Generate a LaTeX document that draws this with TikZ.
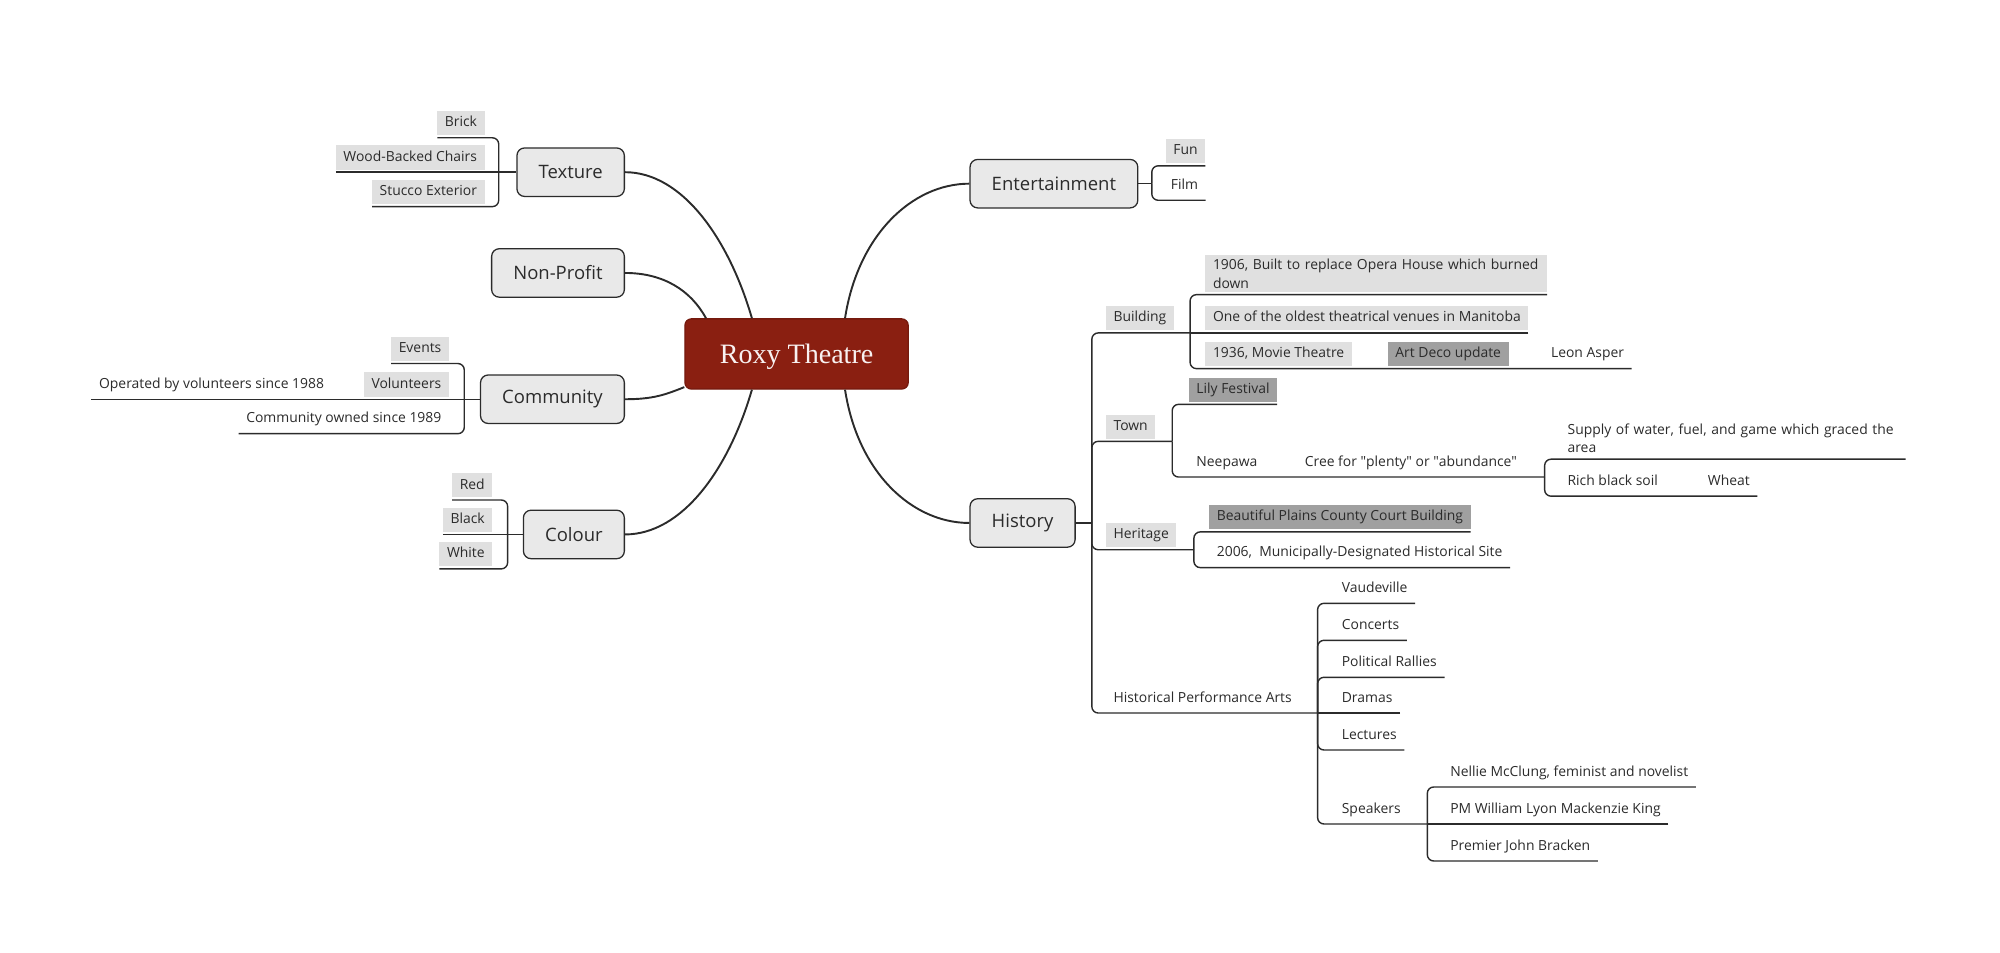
\documentclass[tikz,border=0pt]{standalone}
\usepackage{fontspec}
\setmainfont{Open Sans}
\newfontfamily\titlefont{Liberation Serif}
\definecolor{roxyred}{HTML}{8A1F11}
\definecolor{leafgray}{HTML}{E0E0E0}
\definecolor{deepgray}{HTML}{A0A0A0}
\definecolor{topicgray}{HTML}{E9E9E9}
\definecolor{ink}{HTML}{2B2B2B}

\begin{document}
\begin{tikzpicture}
[x=1pt,y=-1pt,
 root/.style={rounded corners=5pt,fill=roxyred,draw=roxyred!85!black,line width=1pt,
    text=white!94!roxyred,minimum width=175pt,minimum height=55pt,text depth=0pt,
    font=\titlefont\fontsize{22}{26}\selectfont},
 topic/.style={rounded corners=6pt,fill=topicgray,draw=ink,line width=1pt,text=ink,
    minimum height=38pt,inner xsep=17pt,font=\fontsize{14.5}{17}\selectfont},
 bubble/.style={inner xsep=6pt,inner ysep=3pt,outer xsep=0pt,outer ysep=2pt,text=ink,
    font=\fontsize{10.9}{14.6}\selectfont},
 plain/.style={bubble,minimum height=19pt,text height=1.55ex,text depth=.45ex},
 leaf/.style={plain,fill=leafgray},
 darkleaf/.style={plain,fill=deepgray},
 note/.style={bubble,align=left},
 link/.style={draw=ink,line width=1.1pt},
 branch/.style={draw=ink,line width=1.5pt}]

\useasboundingbox (0,0) rectangle (1568,746.4);

% centre and main topics
\node[root] (roxy) at (624.5,277.5) {Roxy Theatre};

\node[topic,anchor=east] (texture) at (490,135) {Texture};
\node[topic,anchor=east] (nonprofit) at (490,214) {Non-Profit};
\node[topic,anchor=east] (community) at (490,313) {Community};
\node[topic,anchor=east] (colour) at (490,419) {Colour};
\node[topic,anchor=west] (entertain) at (760,144) {Entertainment};
\node[topic,anchor=west] (history) at (760,410) {History};

\draw[branch] ([xshift=-35pt]roxy.north) .. controls +(-18,-62) and +(45,0) .. (texture.east);
\draw[branch] ([xshift=17pt]roxy.north west) .. controls +(-12,-22) and +(30,0) .. (nonprofit.east);
\draw[branch] ([yshift=2pt]roxy.south west) .. controls +(-15,6) and +(22,0) .. (community.east);
\draw[branch] ([xshift=-35pt]roxy.south) .. controls +(-18,62) and +(45,0) .. (colour.east);
\draw[branch] ([xshift=38pt]roxy.north) .. controls +(10,-65) and +(-45,0) .. (entertain.west);
\draw[branch] ([xshift=38pt]roxy.south) .. controls +(10,65) and +(-45,0) .. (history.west);

% Texture
\node[leaf,anchor=south east] (brick) at (380,108) {Brick};
\node[leaf,anchor=south east] (wood) at (380,135) {Wood-Backed Chairs};
\node[leaf,anchor=south east] (stucco) at (380,162) {Stucco Exterior};
\coordinate (texfork) at (391,135);

\draw[link] (wood.south west) -- (texture.west);
\draw[link,rounded corners=5pt] (brick.south west) -- (brick.south east) -| (texfork);
\draw[link,rounded corners=5pt] (stucco.south west) -- (stucco.south east) -| (texfork);

% Community
\node[leaf,anchor=south east] (events) at (352,285) {Events};
\node[leaf,anchor=south east] (volunteers) at (352,313) {Volunteers};
\node[plain,anchor=south east] (operated) at (260,313) {Operated by volunteers since 1988};
\node[plain,anchor=south east] (owned) at (352,340) {Community owned since 1989};
\coordinate (commfork) at (364,313);

\draw[link] (operated.south west) -- (volunteers.south west) -- (community.west);
\draw[link,rounded corners=5pt] (events.south west) -- (events.south east) -| (commfork);
\draw[link,rounded corners=5pt] (owned.south west) -- (owned.south east) -| (commfork);

% Colour
\node[leaf,anchor=south east] (red) at (386,392) {Red};
\node[leaf,anchor=south east] (black) at (386,419) {Black};
\node[leaf,anchor=south east] (white) at (386,446) {White};
\coordinate (colfork) at (398,419);

\draw[link] (black.south west) -- (colour.west);
\draw[link,rounded corners=5pt] (red.south west) -- (red.south east) -| (colfork);
\draw[link,rounded corners=5pt] (white.south west) -- (white.south east) -| (colfork);

% Entertainment
\node[leaf,anchor=south west] (fun) at (914,130) {Fun};
\node[plain,anchor=south west] (film) at (912,157) {Film};
\coordinate (entfork) at (903,144);

\draw[link] (entertain.east) -- (entfork);
\draw[link,rounded corners=5pt] (fun.south east) -- (fun.south west) -| (entfork);
\draw[link,rounded corners=5pt] (film.south east) -- (film.south west) -| (entfork);

% History
\coordinate (histfork) at (856,410);
\draw[link] (history.east) -- (histfork);

\node[leaf,anchor=south west] (building) at (867,261) {Building};
\coordinate (bldfork) at (933,261);
\node[note,fill=leafgray,anchor=south west,text width=256pt] (built) at (945,231)
  {1906, Built to replace Opera House which burned\\down};
\node[leaf,anchor=south west] (oldest) at (945,261) {One of the oldest theatrical venues in Manitoba};
\node[leaf,anchor=south west] (movie) at (945,289) {1936, Movie Theatre};
\node[darkleaf,anchor=south west] (artdeco) at (1088,289) {Art Deco update};
\node[plain,anchor=south west] (asper) at (1210,289) {Leon Asper};

\draw[link,rounded corners=5pt] (bldfork) -- (building.south west) -| (histfork);
\draw[link] (oldest.south east) -- (bldfork);
\draw[link,rounded corners=5pt] (built.south east) -- (built.south west) -| (bldfork);
\draw[link,rounded corners=5pt] (asper.south east) -- (artdeco.south east) -- (movie.south west) -| (bldfork);

\node[leaf,anchor=south west] (town) at (867,346) {Town};
\coordinate (townfork) at (919,346);
\node[darkleaf,anchor=south west] (lily) at (932,317) {Lily Festival};
\node[plain,anchor=south west] (neepawa) at (932,374) {Neepawa};
\node[plain,anchor=south west] (cree) at (1017,374)
  {Cree for \textquotedbl plenty\textquotedbl{} or \textquotedbl abundance\textquotedbl};
\coordinate (creefork) at (1211,374);
\node[note,anchor=south west,text width=259pt] (supply) at (1223,360)
  {Supply of water, fuel, and game which graced the\\area};
\node[plain,anchor=south west] (soil) at (1223,389) {Rich black soil};
\node[plain,anchor=south west] (wheat) at (1333,389) {Wheat};

\draw[link,rounded corners=5pt] (townfork) -- (town.south west) -| (histfork);
\draw[link,rounded corners=5pt] (lily.south east) -- (lily.south west) -| (townfork);
\draw[link,rounded corners=5pt] (creefork) -- (cree.south west) -- (neepawa.south west) -| (townfork);
\draw[link,rounded corners=5pt] (supply.south east) -- (supply.south west) -| (creefork);
\draw[link,rounded corners=5pt] (wheat.south east) -- (soil.south west) -| (creefork);

\node[leaf,anchor=south west] (heritage) at (867,431) {Heritage};
\coordinate (herfork) at (936,431);
\node[darkleaf,anchor=south west] (court) at (948,417) {Beautiful Plains County Court Building};
\node[plain,anchor=south west] (site) at (948,445) {2006, \ Municipally-Designated Historical Site};

\draw[link,rounded corners=5pt] (herfork) -- (heritage.south west) -| (histfork);
\draw[link,rounded corners=5pt] (court.south east) -- (court.south west) -| (herfork);
\draw[link,rounded corners=5pt] (site.south east) -- (site.south west) -| (herfork);

\node[plain,anchor=south west] (perform) at (867,559) {Historical Performance Arts};
\coordinate (perffork) at (1033,559);
\node[plain,anchor=south west] (vaudeville) at (1046,473) {Vaudeville};
\node[plain,anchor=south west] (concerts) at (1046,502) {Concerts};
\node[plain,anchor=south west] (rallies) at (1046,531) {Political Rallies};
\node[plain,anchor=south west] (dramas) at (1046,559) {Dramas};
\node[plain,anchor=south west] (lectures) at (1046,588) {Lectures};
\node[plain,anchor=south west] (speakers) at (1046,646) {Speakers};
\coordinate (spkfork) at (1119,646);
\node[plain,anchor=south west] (nellie) at (1131,617) {Nellie McClung, feminist and novelist};
\node[plain,anchor=south west] (pmking) at (1131,646) {PM William Lyon Mackenzie King};
\node[plain,anchor=south west] (bracken) at (1131,675) {Premier John Bracken};

\draw[link,rounded corners=5pt] (perffork) -- (perform.south west) -| (histfork);
\draw[link] (dramas.south east) -- (perffork);
\foreach \act in {vaudeville,concerts,rallies,lectures}
  \draw[link,rounded corners=5pt] (\act.south east) -- (\act.south west) -| (perffork);
\draw[link,rounded corners=5pt] (spkfork) -- (speakers.south west) -| (perffork);
\draw[link] (pmking.south east) -- (spkfork);
\draw[link,rounded corners=5pt] (nellie.south east) -- (nellie.south west) -| (spkfork);
\draw[link,rounded corners=5pt] (bracken.south east) -- (bracken.south west) -| (spkfork);
\end{tikzpicture}
\end{document}
